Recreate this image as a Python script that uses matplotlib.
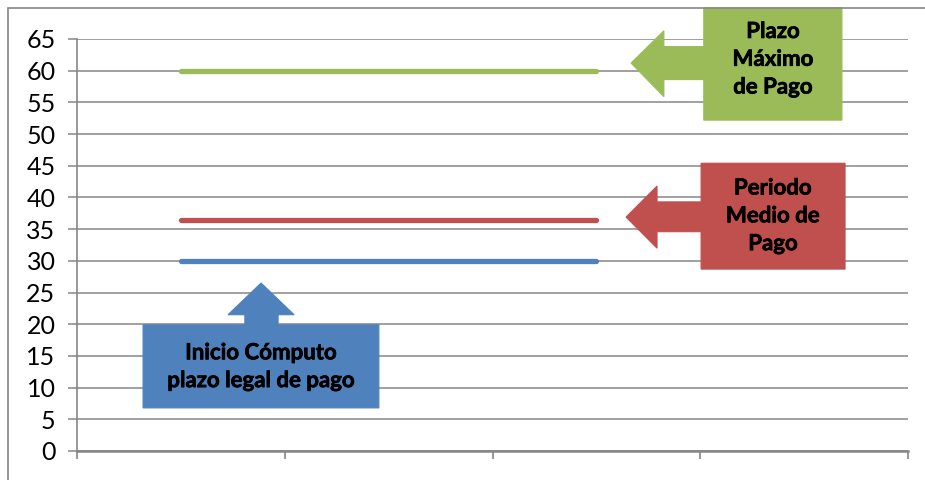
import numpy as np
import matplotlib
matplotlib.use("Agg")
import matplotlib.pyplot as plt
import matplotlib.patheffects as pe
from matplotlib.patches import Polygon, Rectangle

# data
categories = [0.5, 1.5, 2.5]
plazo_inicio = [30, 30, 30]
periodo_medio = [36.5, 36.5, 36.5]
plazo_maximo = [60, 60, 60]
yticks = list(range(0, 70, 5))

blue = "#4F81BD"
red = "#C0504D"
green = "#9BBB59"
grey = "#868686"

plt.rcParams['font.family'] = ['Lato', 'DejaVu Sans']

fig = plt.figure(figsize=(9.25, 4.8), dpi=100)
ax = fig.add_axes([77 / 925, 29 / 480, 831 / 925, 412 / 480])

# outer chart border
fig.patches.append(Rectangle((8 / 925, -0.1), 1.2, (472 / 480) + 0.1, transform=fig.transFigure,
                             fill=False, edgecolor=grey, linewidth=1.2))

ax.plot(categories, plazo_inicio, color=blue, linewidth=3.8, solid_capstyle='round', zorder=3)
ax.plot(categories, periodo_medio, color=red, linewidth=3.8, solid_capstyle='round', zorder=3)
ax.plot(categories, plazo_maximo, color=green, linewidth=3.8, solid_capstyle='round', zorder=3)

ax.set_xlim(0, 4)
ax.set_ylim(0, 65)
ax.set_yticks(yticks)
ax.set_xticks([0, 1, 2, 3, 4])
ax.set_xticklabels([])
ax.yaxis.grid(True, color=grey, linewidth=1.1)
ax.set_axisbelow(True)
for s in ['top', 'right']:
    ax.spines[s].set_visible(False)
ax.spines['left'].set_color(grey)
ax.spines['bottom'].set_color(grey)
ax.spines['left'].set_linewidth(1.2)
ax.spines['bottom'].set_linewidth(1.8)
ax.tick_params(axis='y', length=6.5, color=grey, width=1.1, labelsize=18, pad=9)
ax.tick_params(axis='x', length=6, color=grey, width=1.2, direction='out')


def left_callout(box, tip, head_x, head_y, shaft_y, color):
    x0, x1, y0, y1 = box
    pts = [(x0, y0), (x0, shaft_y[0]), (head_x, shaft_y[0]), (head_x, head_y[0]), tip,
           (head_x, head_y[1]), (head_x, shaft_y[1]), (x0, shaft_y[1]), (x0, y1), (x1, y1), (x1, y0)]
    ax.add_patch(Polygon(pts, closed=True, facecolor=color, edgecolor=color, linewidth=0.8,
                         clip_on=False, zorder=4))


def up_callout(box, tip, head_x, head_y, shaft_x, color):
    x0, x1, y0, y1 = box
    pts = [(x0, y0), (x0, y1), (shaft_x[0], y1), (shaft_x[0], head_y), (head_x[0], head_y), tip,
           (head_x[1], head_y), (shaft_x[1], head_y), (shaft_x[1], y1), (x1, y1), (x1, y0)]
    ax.add_patch(Polygon(pts, closed=True, facecolor=color, edgecolor=color, linewidth=0.8,
                         clip_on=False, zorder=4))


txt = dict(ha='center', va='center', fontsize=16, fontweight='bold', color='black',
           linespacing=1.4, zorder=5, clip_on=False,
           path_effects=[pe.withStroke(linewidth=0.5, foreground='black')])

left_callout((3.017, 3.682, 52.2, 69.9), (2.667, 61.2), 2.825, (55.9, 66.3), (58.6, 63.8), green)
ax.text(3.35, 61.8, "Plazo\nMáximo\nde Pago", **txt)

left_callout((3.004, 3.697, 28.7, 45.4), (2.643, 36.9), 2.792, (32.0, 41.8), (34.6, 39.3), red)
ax.text(3.35, 37.1, "Periodo\nMedio de\nPago", **txt)

up_callout((0.318, 1.453, 6.8, 19.9), (0.886, 26.5), (0.727, 1.045), 21.5, (0.808, 0.968), blue)
ax.text(0.886, 13.3, "Inicio Cómputo\nplazo legal de pago", **txt)

fig.savefig("out.png", dpi=100)
